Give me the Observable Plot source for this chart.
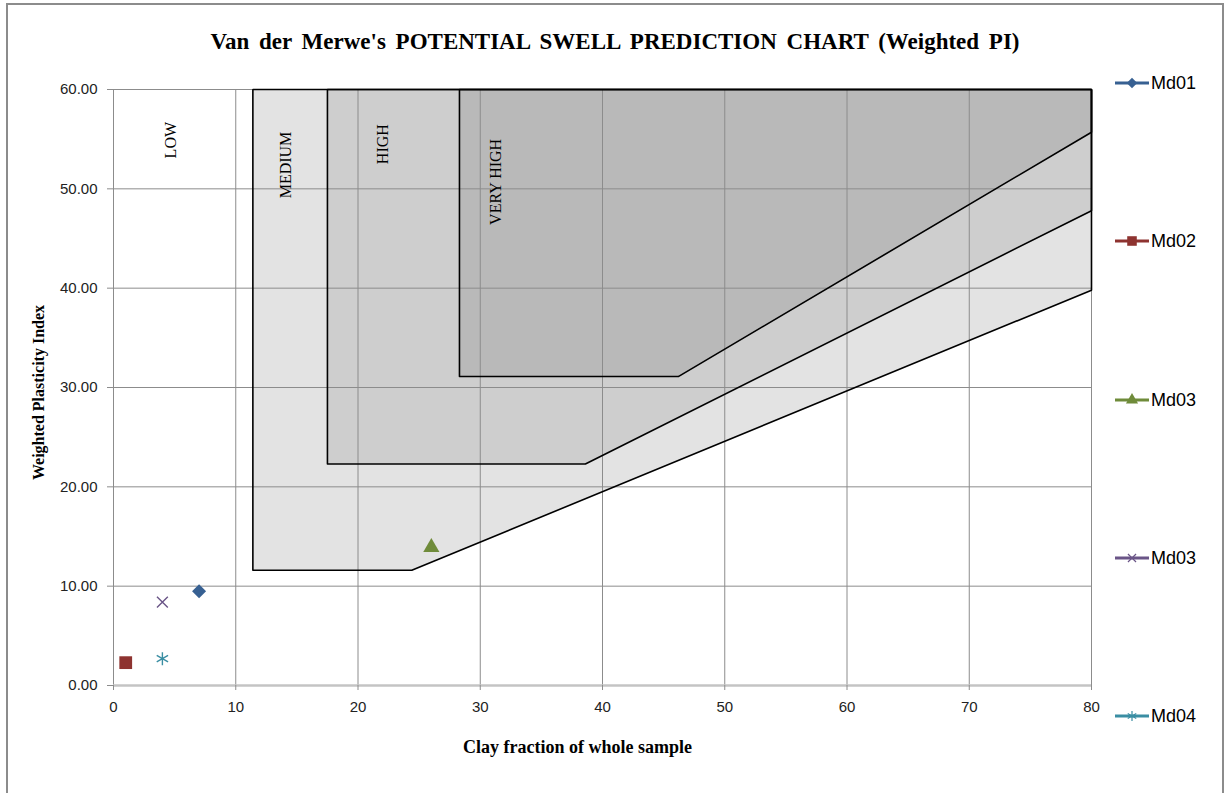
<!DOCTYPE html>
<html><head><meta charset="utf-8">
<script src="https://cdn.jsdelivr.net/npm/d3@7"></script>
<script src="https://cdn.jsdelivr.net/npm/@observablehq/plot@0.6"></script>
<style>
body{margin:0;background:#fff;}
#wrap{position:relative;width:1230px;height:793px;overflow:hidden;background:#fff;}
#frame{position:absolute;left:6px;top:3px;width:1218px;height:900px;border:2px solid #8c8c8c;border-bottom:none;box-sizing:border-box;pointer-events:none}
#title{position:absolute;top:29px;left:0;width:1230px;text-align:center;font:bold 23px "Liberation Serif",serif;word-spacing:4px;color:#000;white-space:nowrap}
#chart{position:absolute;left:0;top:0}
.leg{position:absolute;left:1114px;height:20px;display:flex;align-items:center;font:18px "Liberation Sans",sans-serif;color:#000}
.leg svg{display:block}
</style></head>
<body><div id="wrap"><div id="chart"></div><div id="title">Van der Merwe's POTENTIAL SWELL PREDICTION CHART (Weighted PI)</div><div id="legend"></div><div id="frame"></div></div>
<script>
// ---- data ----
const xTicks = [0, 10, 20, 30, 40, 50, 60, 70, 80];
const yTicks = [0, 10, 20, 30, 40, 50, 60];
const seriesNames = ["Md01", "Md02", "Md03", "Md03", "Md04"];
const seriesX = [7, 1, 26, 4, 4];
const seriesY = [9.5, 2.3, 13.9, 8.4, 2.7];
const mediumZone = [[11.4, 11.6], [11.4, 60], [80, 60], [80, 39.8], [24.4, 11.6], [11.4, 11.6]];
const highZone = [[17.5, 22.3], [17.5, 60], [80, 60], [80, 47.8], [38.6, 22.3], [17.5, 22.3]];
const veryHighZone = [[28.3, 31.1], [28.3, 60], [80, 60], [80, 55.7], [46.2, 31.1], [28.3, 31.1]];
const zoneNames = ["LOW", "MEDIUM", "HIGH", "VERY HIGH"];
const zoneLabelX = [4.7, 14.1, 22.0, 31.3];
const zoneLabelY = [54.9, 52.4, 54.5, 50.7];

// ---- styles ----
const seriesStyle = [
  {symbol: "diamond2", color: "#376092", r: 6.3, filled: true},
  {symbol: "square", color: "#8e3330", r: 7.2, filled: true},
  {symbol: "triangle", color: "#6f8b3a", r: 6.0, filled: true},
  {symbol: "times", color: "#6a5587", r: 5.0, filled: false},
  {symbol: "asterisk", color: "#3a8ea3", r: 6.2, filled: false}
];
const zones = [
  {pts: mediumZone, fill: "#e3e3e3"},
  {pts: highZone, fill: "#cecece"},
  {pts: veryHighZone, fill: "#b9b9b9"}
];
const gridColor = "#8c8c8c";

const marks = [];
zones.forEach(z => marks.push(Plot.line(z.pts, {x: d => d[0], y: d => d[1], fill: z.fill, stroke: "none"})));
marks.push(Plot.gridX(xTicks.slice(1), {stroke: gridColor, strokeOpacity: 1}));
marks.push(Plot.gridY(yTicks.slice(1), {stroke: gridColor, strokeOpacity: 1}));
marks.push(Plot.ruleX([0], {stroke: gridColor}));
marks.push(Plot.ruleY([0], {stroke: "#c4c4c4", strokeWidth: 2.5}));
zones.forEach(z => marks.push(Plot.line(z.pts, {x: d => d[0], y: d => d[1], stroke: "#000", strokeWidth: 1.6, strokeLinejoin: "miter"})));
marks.push(Plot.text(zoneNames, {x: (d, i) => zoneLabelX[i], y: (d, i) => zoneLabelY[i], text: d => d, rotate: -90, fontFamily: "Liberation Serif", fontSize: 16, fill: "#000"}));
seriesNames.forEach((n, i) => {
  const s = seriesStyle[i];
  marks.push(Plot.dot([i], {x: j => seriesX[j], y: j => seriesY[j], symbol: () => s.symbol, r: s.r,
    fill: s.filled ? s.color : "none", stroke: s.filled ? "none" : s.color, strokeWidth: s.filled ? 0 : 1.4}));
});
marks.push(Plot.axisX(xTicks, {tickSize: 5, tickPadding: 11, tickFormat: d => String(d), stroke: gridColor, fill: "#222", fontSize: 15, label: null}));
marks.push(Plot.axisY(yTicks, {tickSize: 6, tickPadding: 10, tickFormat: d3.format(".2f"), stroke: gridColor, fill: "#222", fontSize: 15, label: null}));
marks.push(Plot.text(["Clay fraction of whole sample"], {frameAnchor: "bottom", dx: -25, dy: 67, text: d => d, fontFamily: "Liberation Serif", fontWeight: "bold", fontSize: 18, fill: "#000"}));
marks.push(Plot.text(["Weighted Plasticity Index"], {frameAnchor: "left", textAnchor: "middle", dx: -75, dy: 5, rotate: -90, text: d => d, fontFamily: "Liberation Serif", fontWeight: "bold", fontSize: 16, fill: "#000"}));

const chart = Plot.plot({
  width: 1230, height: 793,
  marginLeft: 113, marginRight: 139, marginTop: 89, marginBottom: 108,
  x: {domain: [0, 80]},
  y: {domain: [0, 60]},
  style: {fontFamily: "Liberation Sans, sans-serif", fontSize: "15px", background: "#fff", overflow: "visible"},
  marks
});
document.getElementById("chart").appendChild(chart);

// ---- legend ----
const legTop = [83, 241, 400, 558, 716];
const leg = document.getElementById("legend");
seriesNames.forEach((n, i) => {
  const s = seriesStyle[i];
  const div = document.createElement("div");
  div.className = "leg";
  div.style.top = (legTop[i] - 10) + "px";
  const sym = {diamond2: d3.symbolDiamond2, square: d3.symbolSquare, triangle: d3.symbolTriangle, times: d3.symbolTimes, asterisk: d3.symbolAsterisk}[s.symbol];
  const size = Math.PI * (s.r * 0.75) ** 2;
  const path = d3.symbol(sym, size)();
  div.innerHTML = `<svg width="37" height="20"><line x1="1" x2="35" y1="10" y2="10" stroke="${s.color}" stroke-width="3"/>` +
    `<path transform="translate(18,10)" d="${path}" fill="${s.filled ? s.color : "none"}" stroke="${s.filled ? "none" : s.color}" stroke-width="1.2"/></svg><span>${n}</span>`;
  leg.appendChild(div);
});
</script></body></html>
